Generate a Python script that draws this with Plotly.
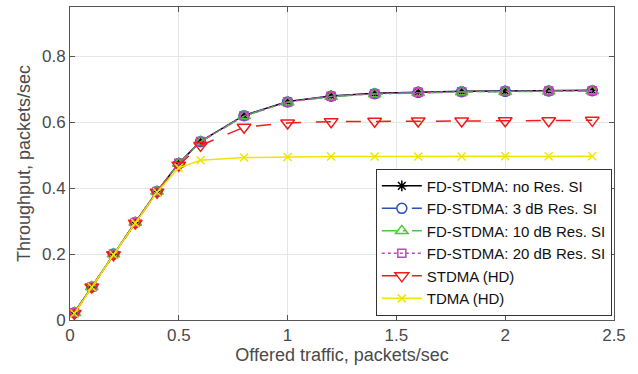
import plotly.graph_objects as go

offered = [0.02, 0.1, 0.2, 0.3, 0.4, 0.5, 0.6, 0.8, 1.0, 1.2, 1.4, 1.6, 1.8, 2.0, 2.2, 2.4]
fd_no_si = [0.022, 0.10, 0.20, 0.296, 0.39, 0.476, 0.542, 0.621, 0.663, 0.680, 0.688, 0.692, 0.694, 0.695, 0.696, 0.697]
fd_3db = [0.022, 0.10, 0.20, 0.296, 0.39, 0.475, 0.541, 0.620, 0.662, 0.679, 0.687, 0.691, 0.693, 0.694, 0.695, 0.696]
fd_10db = [0.022, 0.10, 0.20, 0.296, 0.39, 0.475, 0.541, 0.619, 0.661, 0.678, 0.686, 0.690, 0.692, 0.693, 0.694, 0.695]
fd_20db = [0.022, 0.10, 0.20, 0.296, 0.39, 0.476, 0.542, 0.620, 0.662, 0.679, 0.687, 0.691, 0.693, 0.694, 0.695, 0.696]
stdma = [0.020, 0.10, 0.198, 0.294, 0.388, 0.470, 0.530, 0.585, 0.598, 0.602, 0.603, 0.604, 0.604, 0.605, 0.605, 0.606]
tdma = [0.020, 0.10, 0.198, 0.294, 0.388, 0.462, 0.485, 0.493, 0.495, 0.496, 0.496, 0.496, 0.496, 0.497, 0.497, 0.497]

names = ["FD-STDMA: no Res. SI", "FD-STDMA: 3 dB Res. SI", "FD-STDMA: 10 dB Res. SI",
         "FD-STDMA: 20 dB Res. SI", "STDMA (HD)", "TDMA (HD)"]
x_ticks = [0, 0.5, 1, 1.5, 2, 2.5]
y_ticks = [0, 0.2, 0.4, 0.6, 0.8]

series = [fd_no_si, fd_3db, fd_10db, fd_20db, stdma, tdma]
colors = ["#000000", "#2a50b8", "#4cc63a", "#c048b8", "#ee1c1c", "#f0e400"]
dashes = ["solid", "longdash", "longdashdot", "dot", "longdash", "solid"]
symbols = ["asterisk-open", "circle-open", "triangle-up-open", "square-open", "triangle-down-open", "x-thin-open"]
sizes = [9, 10, 11, 8, 12, 8]

fig = go.Figure()
for nm, ys, c, d, s, sz in zip(names, series, colors, dashes, symbols, sizes):
    fig.add_trace(go.Scatter(
        x=offered, y=ys, name=nm, mode="lines+markers",
        line=dict(color=c, dash=d, width=1.5),
        marker=dict(symbol=s, size=sz, color=c, line=dict(color=c, width=1.5)),
    ))

axis_common = dict(
    showgrid=True, gridcolor="#e6e6e6", gridwidth=1,
    showline=True, linecolor="#555555", linewidth=1, mirror="ticks",
    ticks="inside", ticklen=5, tickcolor="#555555",
    zeroline=False, tickfont=dict(size=17, color="#4a4a4a"),
    automargin=False,
)

fig.update_layout(
    width=638, height=374,
    margin=dict(l=70, r=24, t=7, b=54),
    paper_bgcolor="white", plot_bgcolor="white",
    font=dict(family="Liberation Sans, Arial, sans-serif", color="#4a4a4a"),
    xaxis=dict(range=[0, 2.5], tickvals=x_ticks, ticktext=[str(v) for v in x_ticks],
               title=dict(text="Offered traffic, packets/sec", font=dict(size=18, color="#4a4a4a"), standoff=2),
               **axis_common),
    yaxis=dict(range=[0, 0.95], tickvals=y_ticks, ticktext=[str(v) for v in y_ticks],
               title=dict(text="Throughput, packets/sec", font=dict(size=18, color="#4a4a4a"), standoff=6),
               **axis_common),
    legend=dict(x=0.996, y=0.014, xanchor="right", yanchor="bottom",
                bgcolor="white", bordercolor="#333333", borderwidth=1,
                font=dict(size=15, color="#111111"), tracegroupgap=0,
                itemwidth=40),
    showlegend=True,
)

fig.write_html("out.html", config={"displayModeBar": False},
               post_script="document.body.style.margin='0';document.body.style.padding='0';")
